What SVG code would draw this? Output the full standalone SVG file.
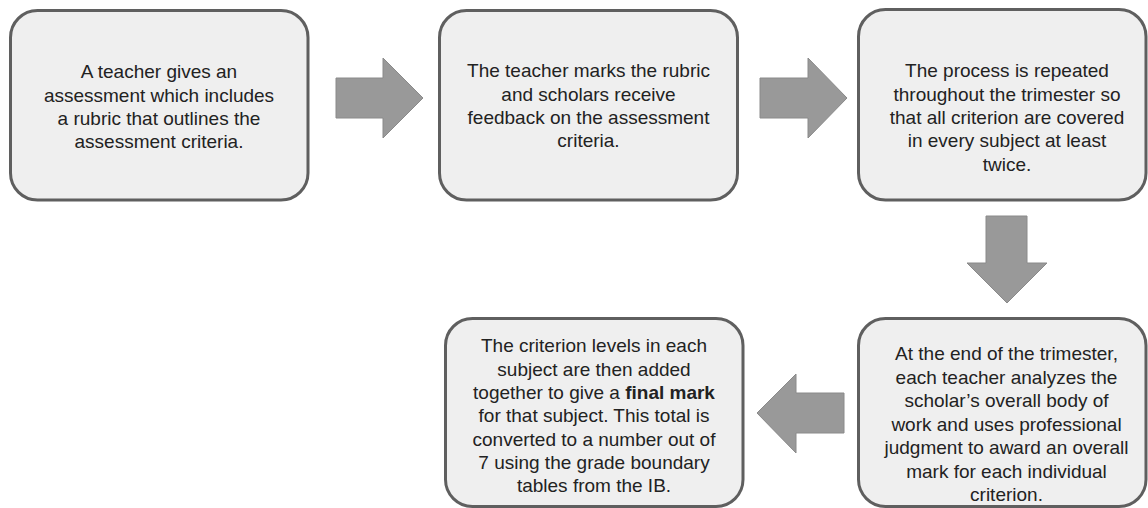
<svg xmlns="http://www.w3.org/2000/svg" width="1148" height="508" viewBox="0 0 1148 508">
<style>
.box{fill:#efefef;stroke:#5f5f5f;stroke-width:3}
.arr{fill:#999999;stroke:#8a8a8a;stroke-width:1}
.t{font-family:"Liberation Sans",Arial,sans-serif;font-size:19px;fill:#222;text-anchor:middle}
.b{font-weight:bold}
</style>
<rect width="1148" height="508" fill="#ffffff"/>
<g id="connectors">
<polygon class="arr" points="336,78 383,78 383,58 423,98 383,138 383,118 336,118"/>
<polygon class="arr" points="760,78 808,78 808,58 847,98 808,138 808,118 760,118"/>
<polygon class="arr" points="986,216 1027,216 1027,263 1047,263 1007,303 967,263 986,263"/>
<polygon class="arr" points="844,393 796,393 796,374 757,413 796,453 796,433 844,433"/>
</g>
<g id="node1">
<rect class="box" x="10.5" y="10.5" width="297.5" height="189.5" rx="27"/>
<text class="t" x="159"><tspan x="159" y="78.3">A teacher gives an</tspan><tspan x="159" y="101.6">assessment which includes</tspan><tspan x="159" y="124.9">a rubric that outlines the</tspan><tspan x="159" y="148.2">assessment criteria.</tspan></text>
</g>
<g id="node2">
<rect class="box" x="439.5" y="10.5" width="298" height="189.5" rx="27"/>
<text class="t"><tspan x="588.5" y="77.3">The teacher marks the rubric</tspan><tspan x="588.5" y="100.6">and scholars receive</tspan><tspan x="588.5" y="123.9">feedback on the assessment</tspan><tspan x="588.5" y="147.2">criteria.</tspan></text>
</g>
<g id="node3">
<rect class="box" x="858.5" y="9.5" width="287.5" height="190.5" rx="27"/>
<text class="t"><tspan x="1007" y="77.3">The process is repeated</tspan><tspan x="1007" y="100.6">throughout the trimester so</tspan><tspan x="1007" y="123.9">that all criterion are covered</tspan><tspan x="1007" y="147.2">in every subject at least</tspan><tspan x="1007" y="170.5">twice.</tspan></text>
</g>
<g id="node4">
<rect class="box" x="445.5" y="318.5" width="297.5" height="188" rx="27"/>
<text class="t"><tspan x="594" y="352.3">The criterion levels in each</tspan><tspan x="594" y="375.6">subject are then added</tspan><tspan x="594" y="398.9">together to give a <tspan class="b">final mark</tspan></tspan><tspan x="594" y="422.2">for that subject. This total is</tspan><tspan x="594" y="445.5">converted to a number out of</tspan><tspan x="594" y="468.8">7 using the grade boundary</tspan><tspan x="594" y="492.1">tables from the IB.</tspan></text>
</g>
<g id="node5">
<rect class="box" x="858.5" y="318.5" width="287.5" height="188" rx="27"/>
<text class="t"><tspan x="1006.5" y="360">At the end of the trimester,</tspan><tspan x="1006.5" y="383.5">each teacher analyzes the</tspan><tspan x="1006.5" y="407">scholar’s overall body of</tspan><tspan x="1006.5" y="430.5">work and uses professional</tspan><tspan x="1006.5" y="454">judgment to award an overall</tspan><tspan x="1006.5" y="477.5">mark for each individual</tspan><tspan x="1006.5" y="501">criterion.</tspan></text>
</g>
</svg>
